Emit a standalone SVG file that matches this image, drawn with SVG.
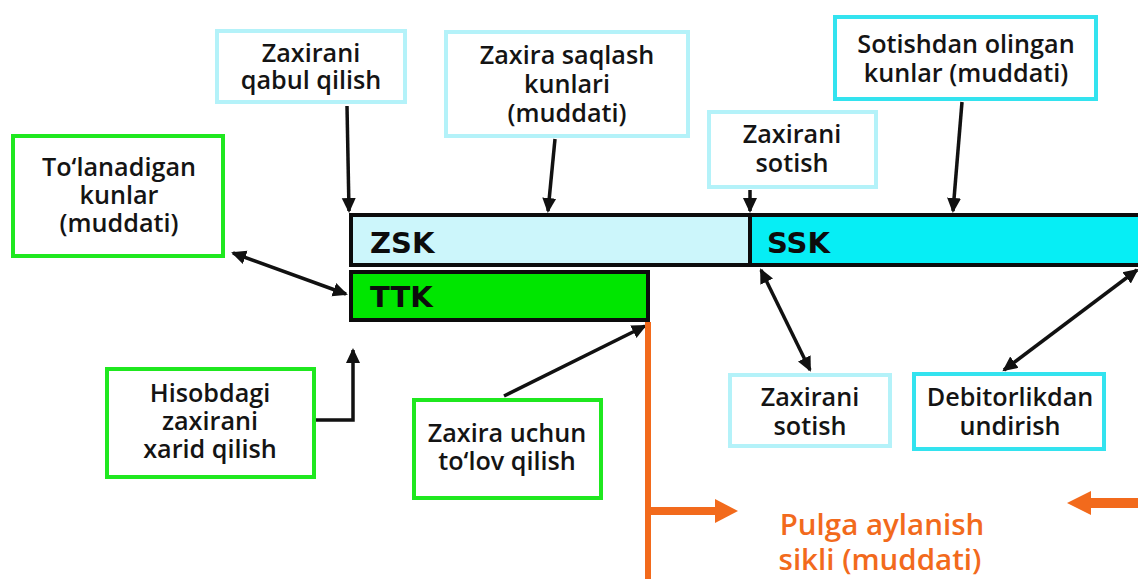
<svg xmlns="http://www.w3.org/2000/svg" width="1138" height="579" viewBox="0 0 1138 579">
<defs>
<style>
.t{font-family:"Open Sans","Liberation Sans",sans-serif;font-weight:600;font-size:25.2px;fill:#141414;text-anchor:middle}
.lab{font-family:"DejaVu Sans","Liberation Sans",sans-serif;font-weight:bold;font-size:29px;fill:#0c0c0c}
.pale{fill:#fff;stroke:#b4f2f9;stroke-width:4}
.cyan{fill:#fff;stroke:#33e3ef;stroke-width:4}
.green{fill:#fff;stroke:#1fe81f;stroke-width:4}
.con{stroke:#111;stroke-width:3.5;fill:none}
.or{fill:#f26a1c}
.ot{font-family:"Open Sans","Liberation Sans",sans-serif;font-weight:600;font-size:29.5px;fill:#f26a1c;text-anchor:middle}
</style>
<marker id="ah" viewBox="0 0 16 16" refX="13" refY="8" markerWidth="16" markerHeight="16" markerUnits="userSpaceOnUse" orient="auto-start-reverse">
<path d="M0,1 L15,8 L0,15 z" fill="#111"/>
</marker>
</defs>
<rect width="1138" height="579" fill="#fff"/>

<g id="bar-zsk">
<rect x="351" y="215" width="399" height="50" fill="#ccf6fb" stroke="#0c0c0c" stroke-width="4"/>
<text class="lab" x="370" y="253">ZSK</text>
</g>
<g id="bar-ssk">
<rect x="750" y="215" width="400" height="50" fill="#06eef5" stroke="#0c0c0c" stroke-width="4"/>
<text class="lab" x="767" y="253">SSK</text>
</g>
<g id="bar-ttk">
<rect x="351" y="272" width="297" height="48" fill="#00e600" stroke="#0c0c0c" stroke-width="4"/>
<text class="lab" x="370" y="307">TTK</text>
</g>

<g id="n-qabul">
<rect class="pale" x="217" y="31" width="188" height="71"/>
<text class="t" x="311" y="62">Zaxirani</text>
<text class="t" x="311" y="89">qabul qilish</text>
</g>
<g id="n-saqlash">
<rect class="pale" x="446" y="32" width="242" height="104"/>
<text class="t" x="567" y="64">Zaxira saqlash</text>
<text class="t" x="567" y="93">kunlari</text>
<text class="t" x="567" y="122">(muddati)</text>
</g>
<g id="n-sotish-top">
<rect class="pale" x="709" y="112" width="167" height="75"/>
<text class="t" x="792" y="143">Zaxirani</text>
<text class="t" x="792" y="172">sotish</text>
</g>
<g id="n-sotishdan">
<rect class="cyan" x="835" y="17" width="261" height="82"/>
<text class="t" x="966" y="53">Sotishdan olingan</text>
<text class="t" x="966" y="82">kunlar (muddati)</text>
</g>
<g id="n-tolanadigan">
<rect class="green" x="13" y="136" width="210" height="120"/>
<text class="t" x="119" y="176">To‘lanadigan</text>
<text class="t" x="119" y="204">kunlar</text>
<text class="t" x="119" y="232">(muddati)</text>
</g>
<g id="n-hisobdagi">
<rect class="green" x="107" y="369" width="207" height="108"/>
<text class="t" x="210" y="402">Hisobdagi</text>
<text class="t" x="210" y="430">zaxirani</text>
<text class="t" x="210" y="458">xarid qilish</text>
</g>
<g id="n-tolov">
<rect class="green" x="414" y="400" width="187" height="98"/>
<text class="t" x="507" y="442">Zaxira uchun</text>
<text class="t" x="507" y="470">to‘lov qilish</text>
</g>
<g id="n-sotish-bottom">
<rect class="pale" x="730" y="375" width="160" height="71"/>
<text class="t" x="810" y="406">Zaxirani</text>
<text class="t" x="810" y="435">sotish</text>
</g>
<g id="n-debitor">
<rect class="cyan" x="914" y="374" width="190" height="75"/>
<text class="t" x="1010" y="406">Debitorlikdan</text>
<text class="t" x="1010" y="435">undirish</text>
</g>
<g id="n-pulga">
<text class="ot" x="882" y="535">Pulga aylanish</text>
<text class="ot" x="880" y="570">sikli (muddati)</text>
</g>

<g id="connectors">
<line class="con" x1="347" y1="106" x2="349" y2="211" marker-end="url(#ah)"/>
<line class="con" x1="555" y1="139" x2="548" y2="211" marker-end="url(#ah)"/>
<line class="con" x1="750" y1="190" x2="750" y2="211" marker-end="url(#ah)"/>
<line class="con" x1="962" y1="102" x2="953" y2="211" marker-end="url(#ah)"/>
<line class="con" x1="233" y1="253" x2="346" y2="294" marker-start="url(#ah)" marker-end="url(#ah)"/>
<path class="con" d="M316,420 H353 V350" marker-end="url(#ah)"/>
<line class="con" x1="504" y1="396" x2="645" y2="326" marker-end="url(#ah)"/>
<line class="con" x1="761" y1="270" x2="810" y2="370" marker-start="url(#ah)" marker-end="url(#ah)"/>
<line class="con" x1="1137" y1="270" x2="1004" y2="370" marker-start="url(#ah)" marker-end="url(#ah)"/>
<rect class="or" x="645" y="322" width="6" height="257"/>
<rect class="or" x="648" y="507" width="70" height="8"/>
<polygon class="or" points="715,499 738,511 715,523"/>
<rect class="or" x="1089" y="498" width="49" height="10"/>
<polygon class="or" points="1067,503 1091,491 1091,515"/>
</g>
</svg>
